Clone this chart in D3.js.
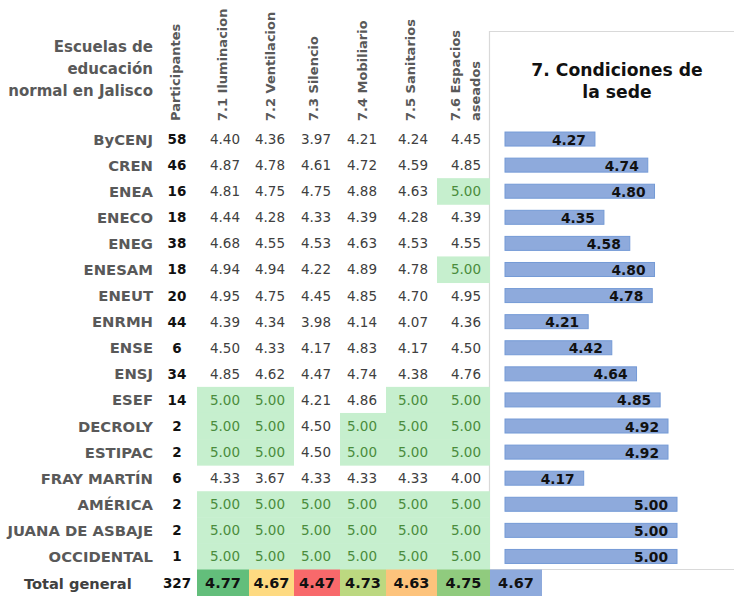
<!DOCTYPE html>
<html>
<head>
<meta charset="utf-8">
<script src="https://cdn.jsdelivr.net/npm/d3@7"></script>
<style>
  body { margin: 0; background: #fff; }
  text { font-family: "DejaVu Sans", sans-serif; }
</style>
</head>
<body>
<div id="chart"></div>
<script>

var schools = ["ByCENJ", "CREN", "ENEA", "ENECO", "ENEG", "ENESAM", "ENEUT", "ENRMH", "ENSE", "ENSJ",
  "ESEF", "DECROLY", "ESTIPAC", "FRAY MARTÍN", "AMÉRICA", "JUANA DE ASBAJE", "OCCIDENTAL"];
var participants = [58, 46, 16, 18, 38, 18, 20, 44, 6, 34, 14, 2, 2, 6, 2, 2, 1];

var iluminacion = [4.40, 4.87, 4.81, 4.44, 4.68, 4.94, 4.95, 4.39, 4.50, 4.85, 5.00, 5.00, 5.00, 4.33, 5.00, 5.00, 5.00];
var ventilacion = [4.36, 4.78, 4.75, 4.28, 4.55, 4.94, 4.75, 4.34, 4.33, 4.62, 5.00, 5.00, 5.00, 3.67, 5.00, 5.00, 5.00];
var silencio    = [3.97, 4.61, 4.75, 4.33, 4.53, 4.22, 4.45, 3.98, 4.17, 4.47, 4.21, 4.50, 4.50, 4.33, 5.00, 5.00, 5.00];
var mobiliario  = [4.21, 4.72, 4.88, 4.39, 4.63, 4.89, 4.85, 4.14, 4.83, 4.74, 4.86, 5.00, 5.00, 4.33, 5.00, 5.00, 5.00];
var sanitarios  = [4.24, 4.59, 4.63, 4.28, 4.53, 4.78, 4.70, 4.07, 4.17, 4.38, 5.00, 5.00, 5.00, 4.33, 5.00, 5.00, 5.00];
var espacios    = [4.45, 4.85, 5.00, 4.39, 4.55, 5.00, 4.95, 4.36, 4.50, 4.76, 5.00, 5.00, 5.00, 4.00, 5.00, 5.00, 5.00];
var sede        = [4.27, 4.74, 4.80, 4.35, 4.58, 4.80, 4.78, 4.21, 4.42, 4.64, 4.85, 4.92, 4.92, 4.17, 5.00, 5.00, 5.00];

var columnLabels = [["Participantes"], ["7.1 Iluminacion"], ["7.2 Ventilacion"], ["7.3 Silencio"],
  ["7.4 Mobiliario"], ["7.5 Sanitarios"], ["7.6 Espacios", "aseados"]];
var totalLabel = "Total general";
var totalParticipants = 327;
var totals = [4.77, 4.67, 4.47, 4.73, 4.63, 4.75];
var totalSede = 4.67;
var chartTitle = ["7. Condiciones de", "la sede"];

var columns = [iluminacion, ventilacion, silencio, mobiliario, sanitarios, espacios];

// ----- layout
var width = 734, height = 596;
var colEdges = [197, 249, 294, 340, 386, 437, 490];

var svg = d3.select("#chart").append("svg")
  .attr("width", width)
  .attr("height", height);

var y = d3.scaleBand()
  .domain(schools)
  .range([126, 569.5]);

var fmt = d3.format(".2f");

// chart frame
svg.append("path")
  .attr("d", "M" + (width + 2) + ",31.5H489.5V569.5H" + (width + 2))
  .attr("fill", "none")
  .attr("stroke", "#d9d9d9")
  .attr("stroke-width", 1.2);

// header
var head = svg.append("text")
  .attr("text-anchor", "end")
  .attr("font-weight", "bold")
  .attr("font-size", 15)
  .attr("fill", "#595959");
["Escuelas de", "educación", "normal en Jalisco"].forEach(function(t, i) {
  head.append("tspan").attr("x", 153).attr("y", 52 + i * 22).text(t);
});

var headX = [180, 227, 275, 318, 367, 415];
columnLabels.forEach(function(lines, i) {
  lines.forEach(function(t, j) {
    var bx = i < 6 ? headX[i] : 460 + j * 20;
    svg.append("text")
      .attr("transform", "translate(" + bx + ",121) rotate(-90)")
      .attr("font-weight", "bold")
      .attr("font-size", 13)
      .attr("fill", "#595959")
      .text(t);
  });
});

// rows
var rows = svg.selectAll("g.row")
  .data(schools)
  .enter()
  .append("g")
  .attr("class", "row")
  .attr("transform", function(d) { return "translate(0," + y(d) + ")"; });

var bh = y.bandwidth();

rows.append("text")
  .attr("x", 153)
  .attr("y", bh / 2 + 5.5)
  .attr("text-anchor", "end")
  .attr("font-weight", "bold")
  .attr("font-size", 14.8)
  .attr("fill", "#595959")
  .text(function(d) { return d; });

rows.append("text")
  .attr("x", 177)
  .attr("y", bh / 2 + 5)
  .attr("text-anchor", "middle")
  .attr("font-weight", "bold")
  .attr("font-size", 13.5)
  .attr("fill", "#111")
  .text(function(d, i) { return participants[i]; });

columns.forEach(function(col, c) {
  rows.filter(function(d, i) { return col[i] === 5; })
    .append("rect")
    .attr("x", colEdges[c])
    .attr("y", 0)
    .attr("width", colEdges[c + 1] - colEdges[c])
    .attr("height", bh + 0.5)
    .attr("fill", "#c6efce");

  rows.append("text")
    .attr("x", colEdges[c + 1] - 9)
    .attr("y", bh / 2 + 5)
    .attr("text-anchor", "end")
    .attr("font-size", 13.5)
    .attr("fill", function(d, i) { return col[i] === 5 ? "#4a8c3c" : "#404040"; })
    .text(function(d, i) { return fmt(col[i]); });
});

// bars of 7. Condiciones de la sede
var x = d3.scaleLinear()
  .domain([3.47, 5])
  .range([505, 677]);

var barH = 14;
rows.append("rect")
  .attr("x", x(3.47))
  .attr("y", (bh - barH) / 2)
  .attr("width", function(d, i) { return x(sede[i]) - x(3.47); })
  .attr("height", barH)
  .attr("fill", "#8eaadc")
  .attr("stroke", "#749ad6")
  .attr("stroke-width", 1);

rows.append("text")
  .attr("x", function(d, i) { return x(sede[i]) - 9; })
  .attr("y", bh / 2 + 5.5)
  .attr("text-anchor", "end")
  .attr("font-weight", "bold")
  .attr("font-size", 13.8)
  .attr("fill", "#111")
  .text(function(d, i) { return fmt(sede[i]); });

// title
var title = svg.append("text")
  .attr("text-anchor", "middle")
  .attr("font-weight", "bold")
  .attr("font-size", 17.2)
  .attr("fill", "#111");
chartTitle.forEach(function(t, i) {
  title.append("tspan").attr("x", 617).attr("y", 76 + i * 22).text(t);
});

// total row
var ty = 569.5, th = height - ty;
var color = d3.scaleLinear()
  .domain([d3.min(totals), d3.median(totals), d3.max(totals)])
  .range(["#f8696b", "#ffeb84", "#63be7b"]);

svg.append("text")
  .attr("x", 24)
  .attr("y", ty + th / 2 + 6)
  .attr("font-weight", "bold")
  .attr("font-size", 14.6)
  .attr("fill", "#404040")
  .text(totalLabel);

svg.append("text")
  .attr("x", 177)
  .attr("y", ty + th / 2 + 5)
  .attr("text-anchor", "middle")
  .attr("font-weight", "bold")
  .attr("font-size", 13.5)
  .attr("fill", "#111")
  .text(totalParticipants);

var tot = svg.selectAll("g.total")
  .data(totals)
  .enter()
  .append("g")
  .attr("class", "total");

tot.append("rect")
  .attr("x", function(d, i) { return colEdges[i]; })
  .attr("y", ty)
  .attr("width", function(d, i) { return colEdges[i + 1] - colEdges[i]; })
  .attr("height", th)
  .attr("fill", function(d) { return color(d); });

tot.append("text")
  .attr("x", function(d, i) { return (colEdges[i] + colEdges[i + 1]) / 2; })
  .attr("y", ty + th / 2 + 5.5)
  .attr("text-anchor", "middle")
  .attr("font-weight", "bold")
  .attr("font-size", 14.5)
  .attr("fill", "#111")
  .text(function(d) { return fmt(d); });

svg.append("rect")
  .attr("x", 490)
  .attr("y", ty)
  .attr("width", 52)
  .attr("height", th)
  .attr("fill", "#8eaadc");

svg.append("text")
  .attr("x", 516)
  .attr("y", ty + th / 2 + 5.5)
  .attr("text-anchor", "middle")
  .attr("font-weight", "bold")
  .attr("font-size", 14.5)
  .attr("fill", "#111")
  .text(fmt(totalSede));
</script>
</body>
</html>
